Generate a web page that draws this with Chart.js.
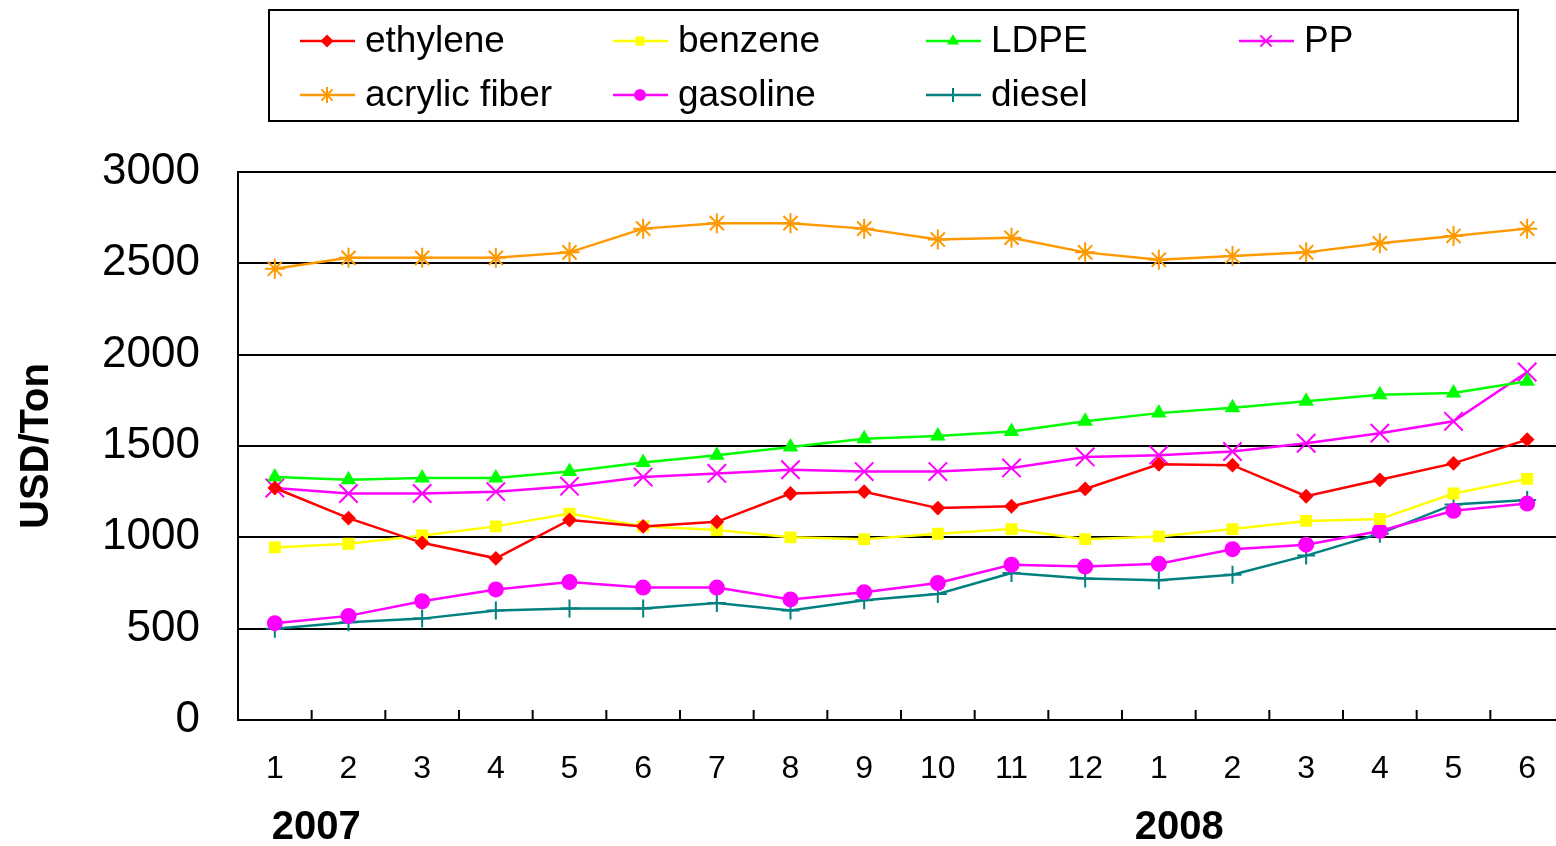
<!DOCTYPE html>
<html>
<head>
<meta charset="utf-8">
<script src="https://cdn.jsdelivr.net/npm/chart.js@4"></script>
<style>
    html, body { margin: 0; padding: 0; background: #ffffff; overflow: hidden; }
    /* plot area runs a few pixels past the right edge, as in the original */
    #wrap { width: 1556px; height: 846px; overflow: hidden; }
</style>
</head>
<body>
<div id="wrap"><canvas id="price-chart" width="1564" height="846"></canvas></div>
<script>
/* ---------- Data ---------- */
const months = ["1", "2", "3", "4", "5", "6", "7", "8", "9", "10", "11", "12", "1", "2", "3", "4", "5", "6"];
const yearLabels = ["2007", "2008"];
const yearStartIndex = [0, 12];

const ethylene = [1270, 1105, 970, 885, 1095, 1060, 1085, 1240, 1250, 1160, 1170, 1265, 1400, 1395, 1225, 1315, 1405, 1535];
const benzene = [945, 965, 1010, 1060, 1130, 1060, 1040, 1000, 990, 1020, 1045, 990, 1005, 1045, 1090, 1100, 1240, 1320];
const ldpe = [1330, 1315, 1325, 1325, 1360, 1410, 1450, 1495, 1540, 1555, 1580, 1635, 1680, 1710, 1745, 1780, 1790, 1855];
const pp = [1270, 1240, 1240, 1250, 1280, 1330, 1350, 1370, 1360, 1360, 1380, 1440, 1450, 1470, 1515, 1570, 1635, 1905];
const acrylicFiber = [2470, 2530, 2530, 2530, 2560, 2690, 2720, 2720, 2690, 2630, 2640, 2560, 2520, 2540, 2560, 2610, 2650, 2690];
const gasoline = [530, 570, 650, 715, 755, 725, 725, 660, 700, 750, 850, 840, 855, 935, 960, 1035, 1145, 1185];
const diesel = [500, 535, 555, 600, 610, 610, 640, 600, 655, 690, 805, 775, 765, 795, 900, 1020, 1180, 1205];

const yTicks = [0, 500, 1000, 1500, 2000, 2500, 3000];

const FONT = "'Liberation Sans', Arial, sans-serif";

function series(label, data, color, style, radius, legendRadius) {
    return {
        label: label,
        data: data,
        borderColor: color,
        backgroundColor: color,
        pointBackgroundColor: color,
        pointBorderColor: color,
        pointStyle: style,
        pointRadius: radius,
        pointBorderWidth: 2,
        borderWidth: 2.5,
        tension: 0,
        fill: false,
        legendRadius: legendRadius
    };
}

/* ---------- Legend box (drawn on canvas) ---------- */
const boxLegend = {
    id: "boxLegend",
    afterDraw(chart) {
        const ctx = chart.ctx;
        ctx.save();
        ctx.strokeStyle = "#000";
        ctx.lineWidth = 2;
        ctx.strokeRect(269, 10, 1249, 111);

        ctx.font = "37px " + FONT;
        ctx.textBaseline = "middle";
        ctx.fillStyle = "#000";
        chart.data.datasets.forEach((ds, i) => {
            const x = 300 + (i % 4) * 313;
            const y = 41 + Math.floor(i / 4) * 54;
            ctx.strokeStyle = ds.borderColor;
            ctx.lineWidth = 2.5;
            ctx.beginPath();
            ctx.moveTo(x, y);
            ctx.lineTo(x + 55, y);
            ctx.stroke();
            ctx.fillStyle = ds.backgroundColor;
            ctx.lineWidth = 2;
            Chart.helpers.drawPoint(ctx, {
                pointStyle: ds.pointStyle,
                radius: ds.legendRadius,
                borderWidth: 2,
                rotation: 0
            }, x + 27, y);
            ctx.fillStyle = "#000";
            ctx.fillText(ds.label, x + 65, y + 1);
        });
        ctx.restore();
    }
};

/* ---------- Inward x ticks + year labels ---------- */
const axisExtras = {
    id: "axisExtras",
    afterDraw(chart) {
        const ctx = chart.ctx;
        const x = chart.scales.x;
        const bottom = chart.chartArea.bottom;
        ctx.save();
        ctx.strokeStyle = "#000";
        ctx.lineWidth = 2;
        for (let i = 0; i < months.length - 1; i++) {
            const px = (x.getPixelForValue(i) + x.getPixelForValue(i + 1)) / 2;
            ctx.beginPath();
            ctx.moveTo(px, bottom);
            ctx.lineTo(px, bottom - 10);
            ctx.stroke();
        }
        ctx.font = "bold 40px " + FONT;
        ctx.textAlign = "left";
        ctx.textBaseline = "middle";
        ctx.fillStyle = "#000";
        yearLabels.forEach((t, k) => {
            const px = x.getPixelForValue(yearStartIndex[k]);
            ctx.fillText(t, px + (k === 0 ? -3 : -24), 828);
        });
        ctx.restore();
    }
};

const ctx = document.getElementById("price-chart").getContext("2d");

new Chart(ctx, {
    type: "line",
    data: {
        labels: months,
        datasets: [
            series("ethylene", ethylene, "#FF0000", "rectRot", 6, 5),
            series("benzene", benzene, "#FFFF00", "rect", 7, 5),
            series("LDPE", ldpe, "#00FF00", "triangle", 7, 5),
            series("PP", pp, "#FF00FF", "crossRot", 13, 8),
            series("acrylic fiber", acrylicFiber, "#FF9900", "star", 10, 8),
            series("gasoline", gasoline, "#FF00FF", "circle", 7, 5),
            series("diesel", diesel, "#008080", "cross", 9, 7)
        ]
    },
    plugins: [boxLegend, axisExtras],
    options: {
        responsive: false,
        animation: false,
        layout: { autoPadding: false, padding: { top: 172, left: 0, right: 0, bottom: 0 } },
        plugins: {
            legend: { display: false },
            tooltip: { enabled: false }
        },
        scales: {
            x: {
                type: "category",
                offset: true,
                grid: { display: false },
                border: { display: true, color: "#000", width: 2 },
                ticks: {
                    color: "#000",
                    font: { family: FONT, size: 32 },
                    padding: 22,
                    maxRotation: 0,
                    autoSkip: false
                },
                afterFit(scale) {
                    scale.height = 126;
                    scale.paddingLeft = 0;
                    scale.paddingRight = 0;
                }
            },
            y: {
                min: 0,
                max: 3000,
                afterBuildTicks(scale) { scale.ticks = yTicks.map(v => ({ value: v })); },
                grid: { color: "#000", lineWidth: 2, drawTicks: false },
                border: { display: true, color: "#000", width: 2 },
                ticks: {
                    color: "#000",
                    font: { family: FONT, size: 44 },
                    padding: 38,
                    callback: v => String(v)
                },
                title: {
                    display: true,
                    text: "USD/Ton",
                    color: "#000",
                    font: { family: FONT, size: 40, weight: "bold" },
                    padding: { top: 13, bottom: 0 }
                },
                afterFit(scale) { scale.width = 238; }
            }
        }
    }
});
</script>
</body>
</html>
